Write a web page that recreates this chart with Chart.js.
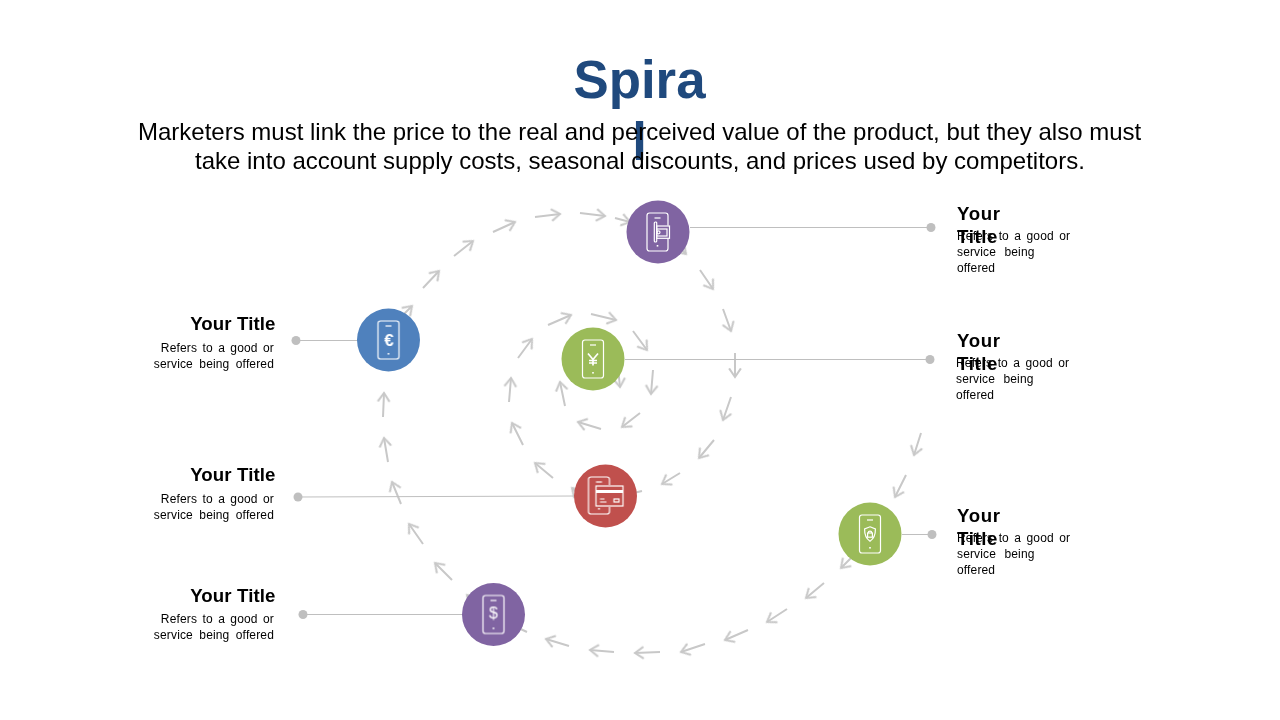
<!DOCTYPE HTML>
<html>
<head>
<title>Spiral</title>
<meta charset="utf-8" />
<script src="https://cdn.jsdelivr.net/npm/chart.js@4/dist/chart.umd.js"></script>
<style>
html, body { margin: 0; padding: 0; background: #fff; }
#wrapper { position: relative; width: 1280px; height: 720px; overflow: hidden; font-family: "Liberation Sans", Arial, sans-serif; }
#myChart { position: absolute; left: 0; top: 0; }
.t { position: absolute; line-height: 0; white-space: pre; color: #000; }
</style>
</head>
<body>
<div id="wrapper">
  <canvas id="myChart" width="1280" height="720"></canvas>
</div>
<script>
// text
const titleLines = ['Spira', 'l'];
const titleBase = [98, 160];
const introLines = [
  'Marketers must link the price to the real and perceived value of the product, but they also must',
  'take into account supply costs, seasonal discounts, and prices used by competitors.'
];
const leftTitle = 'Your Title';
const leftBody = ['Refers to a good or', 'service being offered'];
const leftBodyGap = [1.9, 2.9];
const rightTitle = ['Your', 'Title'];
const rightBody = ['Refers to a good or', 'service being', 'offered'];
const rightBodyGap = [1.9, 4.9, 1.9];
const leftTitleBase = [330, 481, 602];
const leftBodyBase = [352, 503, 623];
const rightTitleBase = [220, 347, 522];
const rightBodyBase = [240, 367, 542];
const rightBodyX = [957, 956, 957];

// the circles
const nodeX = [658, 593, 388.5, 605.5, 493.5, 870];
const nodeY = [232, 359, 340, 496, 614.5, 534];
const nodeIcon = ['atm', 'yen', 'euro', 'card', 'dollar', 'shield'];
const nodeColor = ['#8064A2', '#9BBB59', '#4F81BD', '#C0504D', '#8064A2', '#9BBB59'];

// leader lines, each from the circle to its end dot
const leaderFromX = [690, 625, 358, 575, 463, 902];
const leaderFromY = [227.5, 359.5, 340.5, 496, 614.5, 534.5];
const leaderToX = [931, 930, 296, 298, 303, 932];
const leaderToY = [227.5, 359.5, 340.5, 497, 614.5, 534.5];

// arrows along the spiral
const arrowTailX = [396, 423, 454, 493, 535, 580, 615, 672, 700, 723, 735, 731, 714, 680, 642, 590, 553, 523, 509, 518, 548, 591, 633, 653, 640, 601, 565, 618,
  921, 906, 851, 824, 787, 748, 705, 660, 614, 569, 527, 480, 452, 423, 401, 388, 383];
const arrowTailY = [322, 288, 256, 232, 217, 213, 218, 240, 270, 309, 353, 397, 440, 473, 491, 505, 478, 445, 402, 358, 325, 314, 331, 370, 413, 429, 406, 368,
  433, 475, 558, 583, 609, 630, 644, 652, 652, 646, 632, 608, 580, 544, 504, 462, 417];
const arrowTipX = [412, 439, 473, 515, 560, 605, 630, 686, 713, 731, 735, 723, 699, 662, 625, 572, 535, 512, 511, 532, 571, 616, 647, 651, 622, 578, 560, 620,
  914, 895, 841, 806, 767, 725, 681, 635, 590, 546, 512, 467, 435, 409, 392, 384, 384];
const arrowTipY = [306, 271, 241, 222, 214, 216, 222, 254, 289, 331, 377, 420, 458, 484, 495, 488, 463, 423, 378, 339, 315, 320, 350, 394, 427, 422, 382, 387,
  455, 497, 568, 598, 622, 640, 652, 653, 650, 639, 625, 595, 563, 524, 482, 438, 393];

// one gap between arrows so a single line dataset can hold all the shafts
const shaftData = [];
arrowTailX.forEach(function(x, i) {
  shaftData.push({x: x, y: arrowTailY[i]}, {x: arrowTipX[i], y: arrowTipY[i]}, {x: null, y: null});
});
const leaderData = [];
leaderFromX.forEach(function(x, i) {
  leaderData.push({x: x, y: leaderFromY[i]}, {x: leaderToX[i], y: leaderToY[i]}, {x: null, y: null});
});

function addText(str, x, base, size, opts) {
  opts = opts || {};
  var d = document.createElement('div');
  d.className = 't';
  d.textContent = str;
  d.style.fontSize = size + 'px';
  d.style.top = (base - 0.3465 * size) + 'px';
  if (opts.align === 'right') d.style.right = (1280 - x) + 'px';
  else if (opts.align === 'center') { d.style.left = (x - 640) + 'px'; d.style.width = '1280px'; d.style.textAlign = 'center'; }
  else d.style.left = x + 'px';
  if (opts.bold) d.style.fontWeight = 'bold';
  if (opts.color) d.style.color = opts.color;
  if (opts.ls) d.style.letterSpacing = opts.ls + 'px';
  if (opts.ws) d.style.wordSpacing = opts.ws + 'px';
  document.getElementById('wrapper').appendChild(d);
}

titleLines.forEach(function(s, i) {
  addText(s, 639.5, titleBase[i], 52.8, {bold: true, color: '#1F497D', align: 'center'});
});
addText(introLines[0], 138, 140, 24);
addText(introLines[1], 195, 169, 24);
var smallLs = 0.15;
leftTitleBase.forEach(function(b, i) {
  addText(leftTitle, 275.5, b, 18.67, {bold: true, align: 'right', ls: 0.1});
  leftBody.forEach(function(s, j) {
    addText(s, 274, leftBodyBase[i] + j * 16, 12, {align: 'right', ls: smallLs, ws: leftBodyGap[j]});
  });
});
rightTitleBase.forEach(function(b, i) {
  rightTitle.forEach(function(s, j) {
    addText(s, 957, b + j * 23.5, 18.67, {bold: true, ls: 0.6});
  });
  rightBody.forEach(function(s, j) {
    addText(s, rightBodyX[i], rightBodyBase[i] + j * 16, 12, {ls: smallLs, ws: rightBodyGap[j]});
  });
});

// arrow head, tip in the middle of the canvas so it turns round the tip
function makeChevron() {
  var c = document.createElement('canvas');
  c.width = 30; c.height = 30;
  var g = c.getContext('2d');
  g.strokeStyle = '#C8C8C8';
  g.lineWidth = 2;
  g.lineJoin = 'miter';
  g.beginPath();
  g.moveTo(15 - 8.6, 15 - 5.8);
  g.lineTo(15, 15);
  g.lineTo(15 - 8.6, 15 + 5.8);
  g.stroke();
  return c;
}

function phone(g, x0, y0, w, h) {
  g.beginPath();
  g.roundRect(x0, y0, w, h, 2.5);
  g.stroke();
  g.beginPath();
  g.moveTo(x0 + w / 2 - 3, y0 + 5);
  g.lineTo(x0 + w / 2 + 3, y0 + 5);
  g.stroke();
  g.fillRect(x0 + w / 2 - 0.8, y0 + h - 6, 1.6, 1.6);
}

function makeIcon(kind, bg) {
  var c = document.createElement('canvas');
  c.width = 64; c.height = 64;
  var g = c.getContext('2d');
  g.translate(32, 32);
  g.strokeStyle = '#fff';
  g.fillStyle = '#fff';
  g.lineWidth = 1.2;
  if (kind === 'card') {
    phone(g, -17, -19, 21, 37);
    g.fillStyle = bg;
    g.fillRect(-10, -11, 28, 22);
    g.fillStyle = '#fff';
    g.strokeRect(-9.5, -10, 27, 20);
    g.fillRect(-9.5, -6, 27, 3);
    g.beginPath();
    g.moveTo(-5.5, 3); g.lineTo(-1, 3);
    g.moveTo(-5.5, 6); g.lineTo(1, 6);
    g.stroke();
    g.strokeRect(8.5, 3, 5, 3);
  } else if (kind === 'atm') {
    phone(g, -11, -19, 21, 38);
    g.fillStyle = bg;
    g.fillRect(-4, -10.5, 3, 21);
    g.fillRect(-1, -6.5, 13, 13);
    g.beginPath();
    g.roundRect(-3.7, -10, 2.4, 20, 1);
    g.stroke();
    g.strokeRect(-1.3, -6, 12.8, 12.3);
    g.strokeRect(-1.3, -3, 10.3, 7);
    g.beginPath();
    g.arc(0.5, 0.3, 1.5, 0, Math.PI * 2);
    g.stroke();
  } else if (kind === 'shield') {
    phone(g, -10.5, -19, 21, 38);
    g.beginPath();
    g.moveTo(0, -7.2);
    g.lineTo(5.4, -5);
    g.quadraticCurveTo(5.6, 3.5, 0, 7.2);
    g.quadraticCurveTo(-5.6, 3.5, -5.4, -5);
    g.closePath();
    g.stroke();
    g.strokeRect(-2.4, -1, 4.8, 4.2);
    g.beginPath();
    g.arc(0, -1, 1.8, Math.PI, 0);
    g.stroke();
  } else {
    phone(g, -10.5, -19, 21, 38);
    g.textAlign = 'center';
    g.textBaseline = 'middle';
    if (kind === 'euro') {
      g.font = 'bold 17px "Liberation Sans"';
      g.fillText('€', 0.5, 1);
    } else if (kind === 'dollar') {
      g.font = '16px "Liberation Sans"';
      g.fillText('$', 0, -0.5);
    } else if (kind === 'yen') {
      g.lineWidth = 1.7;
      g.beginPath();
      g.moveTo(-5, -5.5); g.lineTo(0, 0.5); g.lineTo(5, -5.5);
      g.moveTo(0, 0.5); g.lineTo(0, 6.5);
      g.moveTo(-4, 1.5); g.lineTo(4, 1.5);
      g.moveTo(-4, 4); g.lineTo(4, 4);
      g.stroke();
    }
  }
  return c;
}

const chevron = makeChevron();
const headRotation = arrowTipX.map(function(x, i) {
  return Math.atan2(arrowTipY[i] - arrowTailY[i], x - arrowTailX[i]) * 180 / Math.PI;
});
const nodeData = nodeX.map(function(x, i) { return {x: x, y: nodeY[i]}; });
const iconImages = nodeIcon.map(function(k, i) { return makeIcon(k, nodeColor[i]); });

new Chart(document.getElementById('myChart'), {
  type: 'scatter',
  data: {
    datasets: [
      { label: 'Shafts', data: shaftData, showLine: true, spanGaps: false, borderColor: '#C8C8C8', borderWidth: 2, pointRadius: 0, order: 6 },
      { label: 'Heads', data: arrowTipX.map(function(x, i) { return {x: x, y: arrowTipY[i]}; }), pointStyle: chevron, pointRotation: headRotation, order: 5 },
      { label: 'Leaders', data: leaderData, showLine: true, spanGaps: false, borderColor: '#BFBFBF', borderWidth: 1, pointRadius: 0, order: 4 },
      { label: 'Dots', data: leaderToX.map(function(x, i) { return {x: x, y: leaderToY[i]}; }), pointRadius: 4.5, backgroundColor: '#BFBFBF', borderWidth: 0, order: 3 },
      { label: 'Nodes', data: nodeData, pointRadius: 31.5, backgroundColor: nodeColor, borderWidth: 0, order: 2 },
      { label: 'Icons', data: nodeData, pointStyle: iconImages, order: 1 }
    ]
  },
  options: {
    responsive: false,
    animation: false,
    layout: { padding: 0, autoPadding: false },
    plugins: { legend: { display: false }, tooltip: { enabled: false }, title: { display: false } },
    scales: {
      x: { type: 'linear', display: false, min: 0, max: 1280 },
      y: { type: 'linear', display: false, min: 0, max: 720, reverse: true }
    }
  }
});
</script>
</body>
</html>
